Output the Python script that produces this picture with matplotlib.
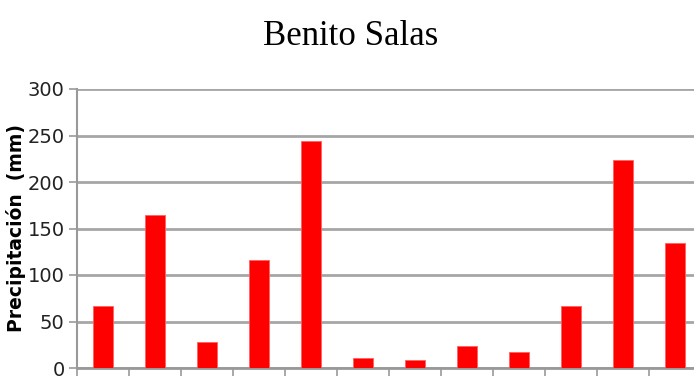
import matplotlib.pyplot as plt

meses = ["Ene", "Feb", "Mar", "Abr", "May", "Jun", "Jul", "Ago", "Sep", "Oct", "Nov", "Dic"]
precipitacion = [67, 164, 28, 116, 244, 11, 9, 24, 17, 67, 224, 134]
y_ticks = [0, 50, 100, 150, 200, 250, 300]

fig = plt.figure(figsize=(6.94, 3.79), dpi=100)
ax = fig.add_axes([77 / 694, 11 / 379, 624 / 694, 279 / 379])

x = range(len(meses))
ax.bar(x, precipitacion, width=0.4, color="#ff0000", edgecolor="#ff6060", linewidth=0.6, zorder=3)

ax.set_xlim(-0.5, len(meses) - 0.5)
ax.set_ylim(0, 300)
ax.set_yticks(y_ticks)
ax.set_yticklabels([str(v) for v in y_ticks], family=["Liberation Sans Narrow", "DejaVu Sans"],
                   fontsize=14, color="#222222")
ax.set_xticks([i + 0.5 for i in range(-1, len(meses))])
ax.set_xticklabels([])
ax.tick_params(axis="x", length=6, width=1.2, color="#999999")
ax.tick_params(axis="y", length=6, width=1.2, color="#999999", pad=3)

ax.grid(axis="y", color="#a6a6a6", linewidth=2, zorder=0)
for lado in ["top", "right"]:
    ax.spines[lado].set_visible(False)
ax.spines["left"].set_color("#999999")
ax.spines["left"].set_linewidth(1.5)
ax.spines["bottom"].set_color("#999999")
ax.spines["bottom"].set_linewidth(2)

ax.set_ylabel("Precipitación  (mm)", fontsize=13.5, fontweight="bold", labelpad=4)
ax.yaxis.set_label_coords(-0.082, 0.5)

fig.text(0.505, 0.905, "Benito Salas", ha="center", va="center",
         family=["Liberation Serif", "DejaVu Serif"], fontsize=25)

plt.savefig("out.png", dpi=100)
